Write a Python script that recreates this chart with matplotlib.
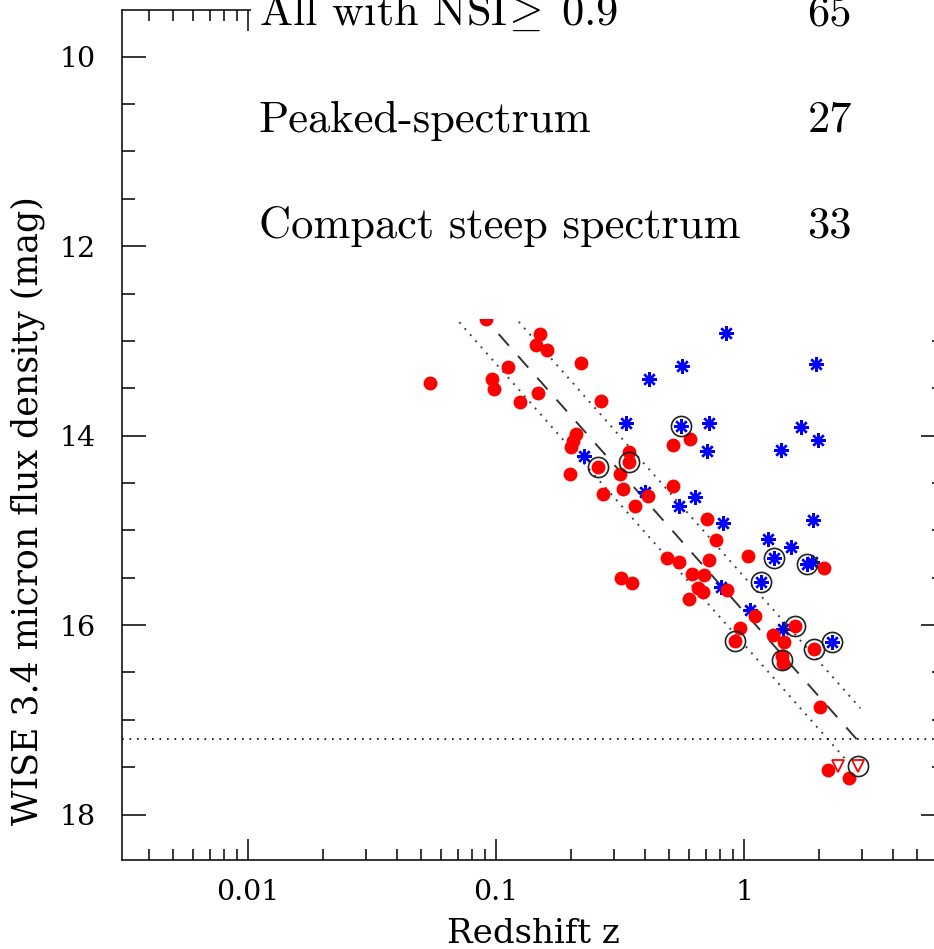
import numpy as np
import matplotlib
matplotlib.use("Agg")
import matplotlib.pyplot as plt
from matplotlib.patches import Rectangle
from matplotlib.ticker import FixedLocator, FixedFormatter, LogLocator, MultipleLocator, NullFormatter

# ---- data ---------------------------------------------------------------
# CSS-like sources (red filled circles)
red_z = [0.091, 0.150, 0.145, 0.160, 0.220, 0.112, 0.096, 0.098, 0.147, 0.125,
         0.264, 0.054, 0.210, 0.205, 0.200, 0.199, 0.257, 0.342, 0.342, 0.316,
         0.519, 0.605, 0.325, 0.269, 0.411, 0.364, 0.319, 0.353, 0.516, 0.711,
         0.771, 1.035, 0.491, 0.546, 0.721, 0.619, 0.692, 0.654, 0.685, 0.602,
         0.851, 2.10, 1.108, 0.964, 1.606, 1.313, 0.920, 1.454, 1.420, 1.435,
         1.92, 2.025, 2.175, 2.66]
red_mag = [12.77, 12.93, 13.04, 13.10, 13.23, 13.28, 13.40, 13.51, 13.55, 13.64,
           13.63, 13.44, 13.98, 14.06, 14.12, 14.40, 14.33, 14.17, 14.28, 14.40,
           14.10, 14.04, 14.56, 14.62, 14.64, 14.74, 15.50, 15.56, 14.53, 14.88,
           15.10, 15.27, 15.29, 15.33, 15.31, 15.46, 15.47, 15.61, 15.65, 15.73,
           15.63, 15.40, 15.90, 16.03, 16.01, 16.10, 16.17, 16.18, 16.33, 16.40,
           16.25, 16.86, 17.53, 17.61]

# upper limits in magnitude (red open triangles)
lim_z = [2.387, 2.89]
lim_mag = [17.49, 17.49]

# peaked-spectrum sources (blue asterisks)
blue_z = [0.412, 0.334, 0.2265, 0.846, 0.564, 1.946, 0.557, 0.725, 1.693, 1.993,
          0.711, 1.406, 0.399, 0.634, 0.548, 0.82, 1.904, 1.253, 1.547, 1.325,
          1.79, 1.875, 1.171, 0.808, 1.057, 1.44, 2.257]
blue_mag = [13.40, 13.87, 14.21, 12.92, 13.27, 13.24, 13.90, 13.87, 13.91, 14.05,
            14.16, 14.15, 14.59, 14.65, 14.74, 14.92, 14.89, 15.09, 15.18, 15.29,
            15.36, 15.33, 15.55, 15.60, 15.84, 16.04, 16.18]

# circled sources
ring_z = [0.257, 0.342, 0.557, 1.325, 1.79, 1.171, 1.606, 0.920, 1.427, 1.92,
          2.257, 2.89]
ring_mag = [14.33, 14.28, 13.90, 15.29, 15.36, 15.55, 16.01, 16.17, 16.37, 16.25,
            16.18, 17.49]

# K-z type relation: mag = FIT_A + FIT_B*log10(z), with +/- scatter lines
FIT_A = 15.86
FIT_B = 2.963
LINE_OFFSETS = [0.0, -0.37, 0.345]
LINE_ZMIN = [0.05, 0.05, 0.05]
LINE_ZMAX = [3.02, 2.94, 2.63]
LINE_STYLES = ["dashed", "dotted", "dotted"]

MAG_LIMIT = 17.2        # WISE detection limit (horizontal dotted line)

legend_labels = [r"All with NSI$\!\geq\;$0.9", "Peaked-spectrum", "Compact steep spectrum"]
legend_counts = ["65", "27", "33"]

x_ticks = [0.01, 0.1, 1]
x_ticklabels = ["0.01", "0.1", "1"]

# ---- figure ---------------------------------------------------------------
W, H = 934, 949
plt.rcParams["mathtext.fontset"] = "cm"
plt.rcParams["font.family"] = "DejaVu Serif"

fig = plt.figure(figsize=(W / 100, H / 100), dpi=100)
ax = fig.add_axes([122 / W, 1 - 860 / H, (945 - 122) / W, (860 - 10) / H])

ax.set_xscale("log")
ax.set_xlim(10 ** -2.508, 10 ** 0.810)
ax.set_ylim(18.48, 9.507)

# relation lines
for off, z0, z1, ls in zip(LINE_OFFSETS, LINE_ZMIN, LINE_ZMAX, LINE_STYLES):
    zz = np.array([z0, z1])
    mm = FIT_A + FIT_B * np.log10(zz) + off
    if ls == "dashed":
        ax.plot(zz, mm, color="#333333", lw=1.4, dashes=(8, 7), zorder=2)
    else:
        ax.plot(zz, mm, color="#444444", lw=1.4, dashes=(1, 3.2), zorder=2)

ax.axhline(MAG_LIMIT, color="black", lw=1.2, dashes=(1, 3.5), zorder=2)

ax.plot(blue_z, blue_mag, ls="none", marker=(8, 2, 0), ms=10.5, mew=1.7,
        color="blue", zorder=3)
ax.plot(red_z, red_mag, ls="none", marker="o", ms=10, mec="none",
        color="red", zorder=4)
ax.plot(lim_z, lim_mag, ls="none", marker="v", ms=8, mfc="none", mew=1.3,
        mec="red", zorder=4)
ax.plot(ring_z, ring_mag, ls="none", marker="o", ms=14.5, mfc="none", mew=1.2,
        mec="#222222", zorder=5)

# ticks
ax.xaxis.set_major_locator(FixedLocator(x_ticks))
ax.xaxis.set_major_formatter(FixedFormatter(x_ticklabels))
ax.xaxis.set_minor_locator(LogLocator(base=10, subs=np.arange(2, 10)))
ax.xaxis.set_minor_formatter(NullFormatter())
ax.yaxis.set_major_locator(MultipleLocator(2))
ax.yaxis.set_minor_locator(MultipleLocator(0.5))

ax.tick_params(which="both", direction="in", top=True, right=True, width=1.1,
               labelsize=20.5)
ax.tick_params(axis="x", which="major", length=15, pad=14)
ax.tick_params(axis="x", which="minor", length=8)
ax.tick_params(axis="y", which="major", length=17, pad=19)
ax.tick_params(axis="y", which="minor", length=9.4)
for sp in ax.spines.values():
    sp.set_linewidth(1.1)

fig.text(533.5 / W, 1 - 943 / H, "Redshift z", fontsize=24.5,
         ha="center", va="baseline")
fig.text(28 / W, 1 - 511 / H, "WISE 3.4 micron flux density (mag)", fontsize=25,
         rotation=90, ha="center", va="center")

# white panel behind the label block (hides top spine and upper right area)
fig.add_artist(Rectangle((251 / W, 1 - 319 / H), (W - 251) / W, 319 / H,
                         transform=fig.transFigure, facecolor="white",
                         edgecolor="none", zorder=5))

baselines = [25, 132, 238]
for lab, cnt, yb in zip(legend_labels, legend_counts, baselines):
    fig.text(259 / W, 1 - yb / H, lab, fontsize=32, family="cmr10",
             ha="left", va="baseline", zorder=6)
    fig.text(852 / W, 1 - yb / H, cnt, fontsize=32, family="cmr10",
             ha="right", va="baseline", zorder=6)

fig.savefig("out.png", dpi=100)
